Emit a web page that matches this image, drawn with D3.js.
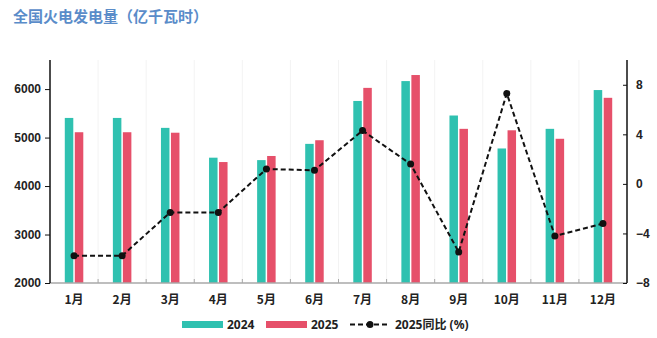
<!DOCTYPE html>
<html><head><meta charset="utf-8">
<script src="https://cdn.jsdelivr.net/npm/d3@7"></script>
<style>
body{margin:0;background:#fff;}
svg{display:block;font-family:"Noto Sans","Noto Sans CJK SC",sans-serif;}
</style></head>
<body><svg id="c" width="657" height="338"></svg>
<script>
const months = ["1月","2月","3月","4月","5月","6月","7月","8月","9月","10月","11月","12月"];
const gen2024 = [5405,5405,5200,4585,4535,4870,5755,6165,5455,4775,5180,5980];
const gen2025 = [5110,5110,5100,4495,4620,4945,6025,6290,5180,5150,4975,5820];
const yoy2025 = [-5.8,-5.8,-2.3,-2.3,1.2,1.1,4.3,1.6,-5.5,7.3,-4.2,-3.2];
const leftTicks = [2000,3000,4000,5000,6000];
const rightTicks = [-8,-4,0,4,8];
const title = "全国火电发电量（亿千瓦时）";
const legendLabels = ["2024","2025","2025同比 (%)"];

const teal = "#2fc1b0", red = "#e6506a";
const svg = d3.select("#c");
const L = 50, R = 627, T = 60, B = 283;

const x = d3.scaleBand().domain(months).range([L, R]).padding(0);
const yL = d3.scaleLinear().domain([2000, 6600]).range([B, T]);
const yR = d3.scaleLinear().domain([-8, 10]).range([B, T]);

svg.append("text").attr("x", 13).attr("y", 22).text(title)
  .attr("font-family", "'Noto Sans CJK SC'").attr("font-size", 15).attr("font-weight", 700)
  .attr("fill", "#5a8cc9");

// faint vertical grid
svg.append("g").selectAll("line").data(months.slice(1)).join("line")
  .attr("x1", d => x(d)).attr("x2", d => x(d)).attr("y1", T).attr("y2", B)
  .attr("stroke", "#f3f3f3").attr("stroke-width", 1);

const bw = 8.5, gap = 1.5;
svg.append("g").selectAll("rect").data(months).join("rect")
  .attr("x", d => x(d) + x.bandwidth()/2 - gap/2 - bw)
  .attr("width", bw)
  .attr("y", (d,i) => yL(gen2024[i])).attr("height", (d,i) => B - yL(gen2024[i]))
  .attr("fill", teal);
svg.append("g").selectAll("rect").data(months).join("rect")
  .attr("x", d => x(d) + x.bandwidth()/2 + gap/2)
  .attr("width", bw)
  .attr("y", (d,i) => yL(gen2025[i])).attr("height", (d,i) => B - yL(gen2025[i]))
  .attr("fill", red);

// x axis
const xAxis = svg.append("g").attr("transform", `translate(0,${B})`);
xAxis.append("line").attr("x1", L).attr("x2", R).attr("stroke", "#a8a8a8").attr("stroke-width", 1.5);
xAxis.selectAll("line.t").data(months.slice(1)).join("line").attr("class","t")
  .attr("x1", d => x(d)).attr("x2", d => x(d)).attr("y1", 0).attr("y2", -4)
  .attr("stroke", "#a8a8a8");
xAxis.selectAll("text").data(months).join("text")
  .attr("x", d => x(d) + x.bandwidth()/2).attr("y", 21)
  .attr("text-anchor", "middle").attr("font-size", 12).attr("font-weight", 700)
  .attr("font-family", "'Noto Sans CJK SC'").attr("fill", "#222").text(d => d);

// left axis
const la = svg.append("g").attr("transform", `translate(${L},0)`)
  .call(d3.axisLeft(yL).tickValues(leftTicks).tickSize(5).tickPadding(4).tickFormat(d3.format("d")));
la.select(".domain").attr("d", `M0,${T}V${B}`).attr("stroke", "#111").attr("stroke-width", 1.5);
la.selectAll("text").attr("font-size", 12).attr("font-weight", 700).attr("fill", "#222");
la.selectAll(".tick line").attr("stroke", "#111");

// right axis
const ra = svg.append("g").attr("transform", `translate(${R},0)`)
  .call(d3.axisRight(yR).tickValues(rightTicks).tickSize(-4).tickPadding(9).tickFormat(d3.format("d")));
ra.select(".domain").attr("d", `M0,${T}V${B}`).attr("stroke", "#111").attr("stroke-width", 1.5);
ra.selectAll("text").attr("font-size", 12).attr("font-weight", 700).attr("fill", "#222");
ra.selectAll(".tick line").attr("stroke", "#111");

// line
const line = d3.line().x((d,i) => x(months[i]) + x.bandwidth()/2).y(d => yR(d));
svg.append("path").datum(yoy2025).attr("d", line)
  .attr("fill", "none").attr("stroke", "#111").attr("stroke-width", 2).attr("stroke-dasharray", "5,3");
svg.append("g").selectAll("circle").data(yoy2025).join("circle")
  .attr("cx", (d,i) => x(months[i]) + x.bandwidth()/2).attr("cy", d => yR(d))
  .attr("r", 3.5).attr("fill", "#111");

// legend
const lg = svg.append("g").attr("font-size", 12).attr("font-weight", 700).attr("fill", "#222");
lg.append("rect").attr("x", 182).attr("y", 321).attr("width", 41).attr("height", 7).attr("fill", teal);
lg.append("text").attr("x", 227).attr("y", 329).text(legendLabels[0]);
lg.append("rect").attr("x", 266).attr("y", 321).attr("width", 41).attr("height", 7).attr("fill", red);
lg.append("text").attr("x", 311).attr("y", 329).text(legendLabels[1]);
lg.append("line").attr("x1", 350).attr("x2", 389).attr("y1", 324.5).attr("y2", 324.5)
  .attr("stroke", "#111").attr("stroke-width", 2).attr("stroke-dasharray", "5,3");
lg.append("circle").attr("cx", 370).attr("cy", 324.5).attr("r", 3.5).attr("fill", "#111");
lg.append("text").attr("x", 395).attr("y", 329).attr("font-family", "'Noto Sans','Noto Sans CJK SC'").text(legendLabels[2]);
</script></body></html>
